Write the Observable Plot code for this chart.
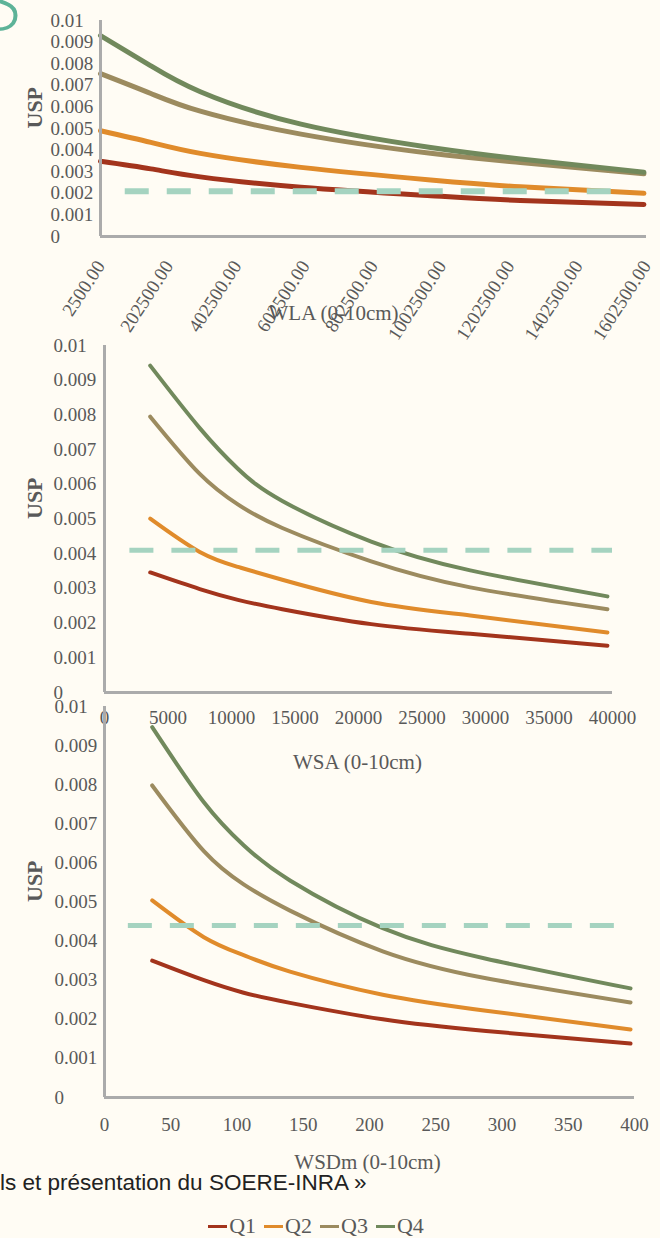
<!DOCTYPE html>
<html><head><meta charset="utf-8">
<script src="https://cdn.jsdelivr.net/npm/d3@7"></script>
<script src="https://cdn.jsdelivr.net/npm/@observablehq/plot@0.6"></script>
<style>
body{margin:0;background:#fffcf4;}
#wrap{position:relative;width:660px;height:1238px;overflow:hidden;background:#fffcf4;}
.panel{position:absolute;left:0;}
#caption{position:absolute;left:0;top:1170px;font-family:'Liberation Sans',Arial,sans-serif;font-size:22.5px;color:#222;white-space:nowrap;}
#legend{position:absolute;left:0;width:632px;top:1213px;display:flex;justify-content:center;gap:8px;font-family:'Liberation Serif',serif;font-size:22px;color:#595959;}
#legend .item{display:flex;align-items:center;}
#legend .sw{display:inline-block;width:19px;height:3px;margin-right:2px;}
#logo{position:absolute;left:0;top:0;}
</style></head><body><div id="wrap">
<svg id="logo" width="40" height="40"><text x="-22" y="30" font-family="'Open Sans',sans-serif" font-weight="300" font-size="80" fill="#5db398">S</text></svg>
</div><script>
// ---- data ----
const series = ["Q1", "Q2", "Q3", "Q4"];
const colors = ["#a3341c", "#e08b2b", "#9c8b5f", "#71895c"];
const yTicks = [0, 0.001, 0.002, 0.003, 0.004, 0.005, 0.006, 0.007, 0.008, 0.009, 0.01];

// Panel 1: WLA
const wlaX = [2500, 150000, 295000, 590000, 970000, 1233000, 1595000];
const wlaQ1 = [0.00348, 0.00313, 0.00276, 0.00228, 0.00189, 0.00167, 0.00148];
const wlaQ2 = [0.00490, 0.00436, 0.00385, 0.00320, 0.00262, 0.00230, 0.00200];
const wlaQ3 = [0.00754, 0.00662, 0.00580, 0.00474, 0.00385, 0.00343, 0.00290];
const wlaQ4 = [0.00930, 0.00790, 0.00670, 0.00520, 0.00412, 0.00359, 0.00297];
const wlaTicks = [2500, 202500, 402500, 602500, 802500, 1002500, 1202500, 1402500, 1602500];
const wlaThreshold = 0.0021;
const wlaThresholdX = [75000, 1500000];

// Panel 2: WSA
const wsaX = [3600, 7500, 10500, 14000, 21000, 28800, 39600];
const wsaQ1 = [0.00346, 0.00298, 0.00267, 0.00240, 0.00197, 0.00169, 0.00135];
const wsaQ2 = [0.00501, 0.00405, 0.00362, 0.00325, 0.00261, 0.00222, 0.00173];
const wsaQ3 = [0.00795, 0.00630, 0.00542, 0.00474, 0.00378, 0.00303, 0.00240];
const wsaQ4 = [0.00942, 0.00762, 0.00645, 0.00552, 0.00435, 0.00352, 0.00277];
const wsaTicks = [0, 5000, 10000, 15000, 20000, 25000, 30000, 35000, 40000];
const wsaThreshold = 0.0041;
const wsaThresholdX = [2000, 40000];

// Panel 3: WSDm
const wsdX = [36, 75, 105, 140, 210, 288, 397];
const wsdQ1 = [0.00350, 0.00300, 0.00268, 0.00242, 0.00200, 0.00170, 0.00138];
const wsdQ2 = [0.00504, 0.00410, 0.00364, 0.00322, 0.00263, 0.00222, 0.00174];
const wsdQ3 = [0.00798, 0.00630, 0.00545, 0.00478, 0.00374, 0.00305, 0.00243];
const wsdQ4 = [0.00947, 0.00755, 0.00645, 0.00555, 0.00433, 0.00355, 0.00279];
const wsdTicks = [0, 50, 100, 150, 200, 250, 300, 350, 400];
const wsdThreshold = 0.0044;
const wsdThresholdX = [18, 386];

const caption = "ls et présentation du SOERE-INRA »";

// ---- drawing ----
const axisColor = "#ababab";
const dashColor = "#a5d3c0";
const wrap = document.getElementById("wrap");

function rowsOf(xs, ys) {
  return series.flatMap((s, i) => xs.map((x, j) => ({s, x, y: ys[i][j]})));
}

function panel(o) {
  const rows = rowsOf(o.xs, o.ys);
  const chart = Plot.plot({
    width: 660, height: o.height,
    marginTop: 20, marginLeft: o.ml, marginRight: o.mr, marginBottom: o.mb,
    style: {background: "transparent", fontFamily: "'Liberation Serif', serif", fontSize: "19px", color: "#595959", overflow: "visible"},
    x: {domain: o.xDomain},
    y: {domain: [0, 0.01]},
    color: {domain: series, range: colors},
    marks: [
      Plot.line(rows, {x: "x", y: "y", z: "s", stroke: "s", strokeWidth: o.lw, curve: "natural"}),
      Plot.ruleY([o.thr], {x1: o.thrX[0], x2: o.thrX[1], stroke: dashColor, strokeWidth: o.dw, strokeDasharray: "24,18"}),
      Plot.ruleX([o.xDomain[0]], {stroke: axisColor, strokeWidth: 3}),
      Plot.ruleY([0], {stroke: axisColor, strokeWidth: 3}),
      Plot.axisY({ticks: yTicks, tickSize: 0, textAnchor: "start", tickPadding: o.ypad, tickFormat: d3.format("~g"), label: null}),
      Plot.axisX({ticks: o.xTicks, tickSize: 0, tickPadding: o.xpad, tickRotate: o.rot || 0, tickFormat: o.xfmt, label: null}),
      Plot.text([o.title], {frameAnchor: "bottom", dx: o.tdx, dy: o.tdy, fontSize: 21, fill: "#595959"}),
      Plot.text(["USP"], {frameAnchor: "left", dx: o.udx, rotate: -90, fontSize: 22, fontWeight: "bold", fill: "#595959"})
    ]
  });
  chart.classList.add("panel");
  chart.style.top = o.top + "px";
  chart.style.position = "absolute";
  wrap.appendChild(chart);
}

panel({top: 0, height: 340, ml: 100, mr: 14, mb: 104, xDomain: [2500, 1602500],
  xs: wlaX, ys: [wlaQ1, wlaQ2, wlaQ3, wlaQ4], thr: wlaThreshold, thrX: wlaThresholdX,
  xTicks: wlaTicks, xfmt: d3.format(".2f"), rot: -57, xpad: 26, ypad: 50,
  title: "WLA (0-10cm)", tdx: -40, tdy: 83, udx: -66, lw: 5, dw: 6});

panel({top: 325, height: 467, ml: 104, mr: 48, mb: 100, xDomain: [0, 40000],
  xs: wsaX, ys: [wsaQ1, wsaQ2, wsaQ3, wsaQ4], thr: wsaThreshold, thrX: wsaThresholdX,
  xTicks: wsaTicks, xfmt: d3.format("d"), xpad: 18, ypad: 51,
  title: "WSA (0-10cm)", tdx: -1, tdy: 76, udx: -70, lw: 4, dw: 5});

panel({top: 686, height: 491, ml: 104, mr: 26, mb: 80, xDomain: [0, 400],
  xs: wsdX, ys: [wsdQ1, wsdQ2, wsdQ3, wsdQ4], thr: wsdThreshold, thrX: wsdThresholdX,
  xTicks: wsdTicks, xfmt: d3.format("d"), xpad: 20, ypad: 50,
  title: "WSDm (0-10cm)", tdx: -2, tdy: 71, udx: -70, lw: 4, dw: 5});

const cap = document.createElement("div");
cap.id = "caption"; cap.textContent = caption; wrap.appendChild(cap);

const leg = document.createElement("div");
leg.id = "legend";
series.forEach((s, i) => {
  const it = document.createElement("span"); it.className = "item";
  const sw = document.createElement("span"); sw.className = "sw"; sw.style.background = colors[i];
  it.appendChild(sw); it.appendChild(document.createTextNode(s));
  leg.appendChild(it);
});
wrap.appendChild(leg);
</script></body></html>
